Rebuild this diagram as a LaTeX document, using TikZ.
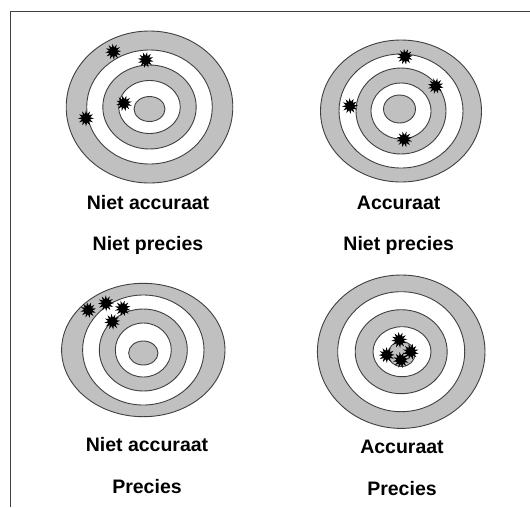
\documentclass[tikz,border=0pt]{standalone}
\usepackage{fontspec}
\setmainfont{Liberation Sans}
\usepackage{xcolor}
\definecolor{cRing}{HTML}{C0C0C0}
\definecolor{cEdge}{HTML}{404040}
\usetikzlibrary{shapes.geometric}
\tikzset{
  ring-gray/.style={draw=cEdge,line width=0.9pt,fill=cRing},
  ring-white/.style={draw=cEdge,line width=0.9pt,fill=white},
  hit/.style={star,star points=12,star point ratio=1.9,minimum size=16pt,
    inner sep=0pt,fill=black,draw=none},
  caption/.style={font=\bfseries\fontsize{19.5}{22}\selectfont,anchor=base,inner sep=0pt},
  frame-line/.style={draw=cEdge,line width=0.9pt},
}

\begin{document}
\begin{tikzpicture}[x=1pt,y=-1pt]
  \fill[white] (0,0) rectangle (530,507);
  \useasboundingbox (0,0) rectangle (530,507);
  % frame
  \coordinate (fb) at (10,507);
  \coordinate (fc) at (10,11);
  \coordinate (fr) at (530,11);
  \draw[frame-line] (fb) -- (fc) -- (fr);

  % target 1: niet accuraat, niet precies
  \draw[ring-gray]  (149.5,107) ellipse [x radius=83.3,y radius=76];
  \draw[ring-white] (149.5,107) ellipse [x radius=62.8,y radius=57];
  \draw[ring-gray]  (149.5,107) ellipse [x radius=46.7,y radius=42];
  \draw[ring-white] (149.5,107) ellipse [x radius=30.8,y radius=26.5];
  \draw[ring-gray]  (149.5,109) ellipse [x radius=15.5,y radius=12.5];
  \node[hit,rotate=5]  (h1a) at (113.3,51.7) {};
  \node[hit,rotate=20] (h1b) at (145.7,60) {};
  \node[hit,rotate=12] (h1c) at (124,103.3) {};
  \node[hit,rotate=0]  (h1d) at (86,118.3) {};
  \node[caption] (c1a) at (148,209.3) {Niet accuraat};
  \node[caption] (c1b) at (148,250) {Niet precies};

  % target 2: accuraat, niet precies
  \draw[ring-gray]  (401,111) ellipse [x radius=80.5,y radius=71];
  \draw[ring-white] (401,111) ellipse [x radius=62,y radius=57];
  \draw[ring-gray]  (401,111) ellipse [x radius=45,y radius=43];
  \draw[ring-white] (401,111) ellipse [x radius=30,y radius=28];
  \draw[ring-gray]  (399.5,109) ellipse [x radius=16,y radius=14];
  \node[hit,rotate=8]  (h2a) at (405,56.7) {};
  \node[hit,rotate=18] (h2b) at (435.7,86) {};
  \node[hit,rotate=3]  (h2c) at (350,106) {};
  \node[hit,rotate=14] (h2d) at (404.3,139.3) {};
  \node[caption] (c2a) at (398.7,209.3) {Accuraat};
  \node[caption] (c2b) at (398.7,250) {Niet precies};

  % target 3: niet accuraat, precies
  \draw[ring-gray]  (143.3,350) ellipse [x radius=81.7,y radius=66.7];
  \draw[ring-white] (143.3,350) ellipse [x radius=60.7,y radius=55];
  \draw[ring-gray]  (143.3,350) ellipse [x radius=44,y radius=41];
  \draw[ring-white] (143.3,350) ellipse [x radius=28,y radius=27];
  \draw[ring-gray]  (143.3,353) ellipse [x radius=14.7,y radius=12];
  \node[hit,rotate=10] (h3a) at (88.3,310) {};
  \node[hit,rotate=2]  (h3b) at (106,303.3) {};
  \node[hit,rotate=16] (h3c) at (122.7,308.3) {};
  \node[hit,rotate=7]  (h3d) at (112.3,321.7) {};
  \node[caption] (c3a) at (147,451.7) {Niet accuraat};
  \node[caption] (c3b) at (147,493.3) {Precies};

  % target 4: accuraat, precies
  \draw[ring-gray]  (401.2,351.7) ellipse [x radius=83.8,y radius=76.7];
  \draw[ring-white] (401.2,351.7) ellipse [x radius=63.5,y radius=60];
  \draw[ring-gray]  (401.2,351.7) ellipse [x radius=46,y radius=42];
  \draw[ring-white] (402,351.7) ellipse [x radius=29,y radius=25];
  \draw[ring-gray]  (401.5,354) ellipse [x radius=13.5,y radius=12.5];
  \node[hit,rotate=6]  (h4a) at (399.3,340) {};
  \node[hit,rotate=15] (h4b) at (410.7,351.7) {};
  \node[hit,rotate=1]  (h4c) at (386.7,355) {};
  \node[hit,rotate=11] (h4d) at (401,360) {};
  \node[caption] (c4a) at (402,453.3) {Accuraat};
  \node[caption] (c4b) at (402,495) {Precies};
\end{tikzpicture}
\end{document}
